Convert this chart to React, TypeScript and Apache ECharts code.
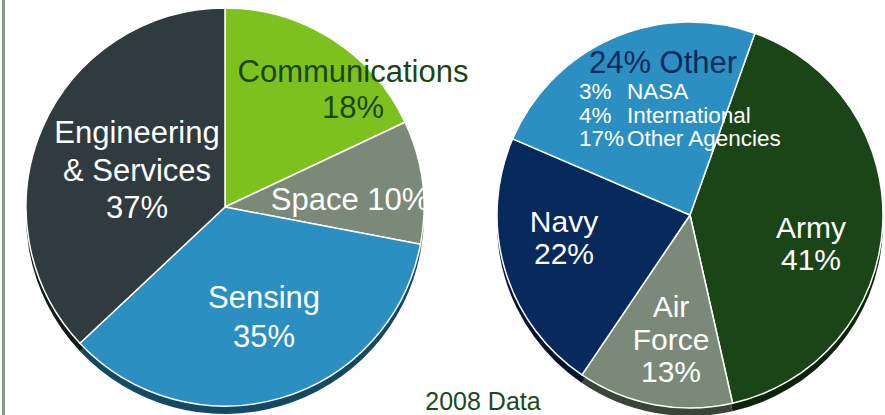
import React, { useEffect, useRef } from "react";
import * as echarts from "echarts";

// ---- data ----
const leftNames = ["Communications", "Space", "Sensing", "Engineering & Services"];
const leftValues = [18, 10, 35, 37];
const rightNames = ["Army", "Air Force", "Navy", "Other"];
const rightValues = [41, 13, 22, 24];
const otherNames = ["NASA", "International", "Other Agencies"];
const otherValues = [3, 4, 17];
const footnote = "2008 Data";

// ---- styles ----
const leftColors = ["#7DC11F", "#7B8978", "#2B8FC1", "#2F3B3F"];
const leftDepth = ["#4E7A12", "#4A5448", "#154862", "#161A1A"];
const rightColors = ["#1A4617", "#7B8978", "#08295B", "#2B8FC1"];
const rightDepth = ["#0C250A", "#3A4439", "#041330", "#154862"];
const FONT = "Liberation Sans, Arial, sans-serif";

const LEFT_C = [225, 207];
const LEFT_R = 199;
const RIGHT_C = [690, 215];
const RIGHT_R = 193;
const DEPTH = 8;

// label placement (name text, position, style)
const leftLabelLayout = [
  { text: (n: string, v: number) => `${n}\n${v}%`, x: 353, y: 89, lh: 36, color: "#1A4617" },
  { text: (n: string, v: number) => `${n} ${v}%`, x: 350, y: 199, lh: 36, color: "#FFFFFF" },
  { text: (n: string, v: number) => `${n}\n${v}%`, x: 264, y: 317, lh: 39, color: "#FFFFFF" },
  { text: (n: string, v: number) => `${n.replace(" & ", "\n& ")}\n${v}%`, x: 137, y: 170, lh: 37.5, color: "#FFFFFF" },
];
const rightLabelLayout = [
  { text: (n: string, v: number) => `${n}\n${v}%`, x: 811, y: 243, lh: 32, size: 30, color: "#FFFFFF" },
  { text: (n: string, v: number) => `${n.replace(" ", "\n")}\n${v}%`, x: 671, y: 339, lh: 32.5, size: 30, color: "#FFFFFF" },
  { text: (n: string, v: number) => `${n}\n${v}%`, x: 564, y: 237, lh: 32, size: 30, color: "#FFFFFF" },
  { text: (n: string, v: number) => `${v}% ${n}`, x: 663, y: 62, lh: 32, size: 31, color: "#0A2A5E" },
];
const subRowsY = [91, 115, 138];

export default function App() {
  const ref = useRef<HTMLDivElement>(null);

  useEffect(() => {
    if (!ref.current) return;
    const chart = echarts.init(ref.current, undefined, { renderer: "svg" });

    const pieSeries = (
      names: string[],
      values: number[],
      colors: string[],
      center: number[],
      r: number,
      startAngle: number,
      depth: boolean
    ) => ({
      type: "pie",
      silent: true,
      z: depth ? 1 : 2,
      center: depth ? [center[0], center[1] + DEPTH] : center,
      radius: r,
      startAngle,
      clockwise: true,
      label: { show: false },
      labelLine: { show: false },
      emphasis: { disabled: true },
      itemStyle: {
        borderColor: "#FFFFFF",
        borderWidth: depth ? 0 : 1.5,
      },
      data: names.map((n, i) => ({
        name: n,
        value: values[i],
        itemStyle: { color: colors[i] },
      })),
    });

    const graphics: any[] = [
      {
        type: "rect",
        shape: { x: 2, y: 0, width: 3, height: 415 },
        style: { fill: "#8A9A88" },
      },
    ];

    leftNames.forEach((n, i) => {
      const L = leftLabelLayout[i];
      graphics.push({
        type: "text",
        z: 10,
        x: L.x,
        y: L.y,
        style: {
          text: L.text(n, leftValues[i]),
          fill: L.color,
          font: `31px ${FONT}`,
          lineHeight: L.lh,
          textAlign: "center",
          textVerticalAlign: "middle",
        },
      });
    });

    rightNames.forEach((n, i) => {
      const L = rightLabelLayout[i];
      graphics.push({
        type: "text",
        z: 10,
        x: L.x,
        y: L.y,
        style: {
          text: L.text(n, rightValues[i]),
          fill: L.color,
          font: `${L.size}px ${FONT}`,
          lineHeight: L.lh,
          textAlign: "center",
          textVerticalAlign: "middle",
        },
      });
    });

    otherNames.forEach((n, i) => {
      graphics.push({
        type: "text",
        z: 10,
        x: 579,
        y: subRowsY[i],
        style: {
          text: `${otherValues[i]}%`,
          fill: "#FFFFFF",
          font: `22.5px ${FONT}`,
          textAlign: "left",
          textVerticalAlign: "middle",
        },
      });
      graphics.push({
        type: "text",
        z: 10,
        x: 627,
        y: subRowsY[i],
        style: {
          text: n,
          fill: "#FFFFFF",
          font: `22.5px ${FONT}`,
          textAlign: "left",
          textVerticalAlign: "middle",
        },
      });
    });

    graphics.push({
      type: "text",
      z: 10,
      x: 483,
      y: 401,
      style: {
        text: footnote,
        fill: "#1A4A1A",
        font: `25px ${FONT}`,
        textAlign: "center",
        textVerticalAlign: "middle",
      },
    });

    chart.setOption({
      animation: false,
      backgroundColor: "#FFFFFF",
      series: [
        pieSeries(leftNames, leftValues, leftDepth, LEFT_C, LEFT_R, 90, true),
        pieSeries(leftNames, leftValues, leftColors, LEFT_C, LEFT_R, 90, false),
        pieSeries(rightNames, rightValues, rightDepth, RIGHT_C, RIGHT_R, 70.35, true),
        pieSeries(rightNames, rightValues, rightColors, RIGHT_C, RIGHT_R, 70.35, false),
      ],
      graphic: graphics,
    });

    return () => chart.dispose();
  }, []);

  return (
    <div
      ref={ref}
      style={{ position: "fixed", left: 0, top: 0, width: 885, height: 415 }}
    />
  );
}
